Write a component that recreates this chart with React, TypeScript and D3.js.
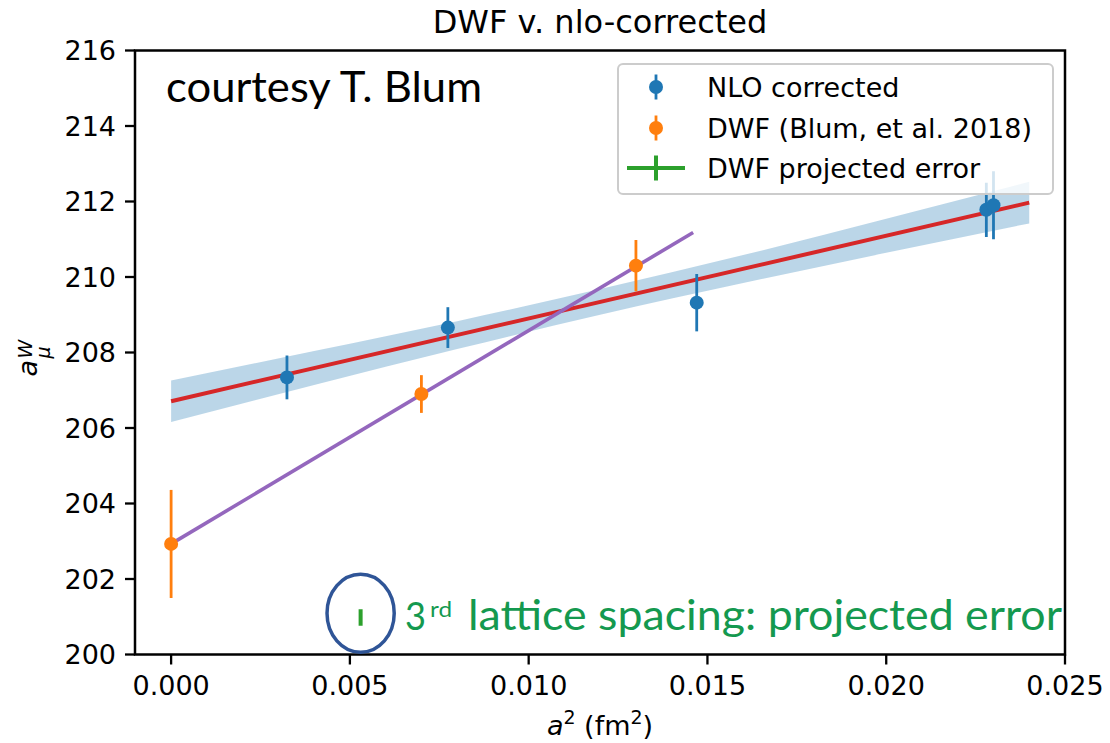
import React from 'react';
import * as d3 from 'd3';

// ---- data ----
const xTicks = [0, 0.005, 0.01, 0.015, 0.02, 0.025];
const yTicks = [200, 202, 204, 206, 208, 210, 212, 214, 216];

const nloX = [0.00324, 0.00774, 0.0147, 0.0228, 0.023];
const nloY = [207.34, 208.66, 209.32, 211.78, 211.9];
const nloErr = [0.58, 0.54, 0.76, 0.72, 0.9];

const dwfX = [0, 0.007, 0.013];
const dwfY = [202.93, 206.9, 210.3];
const dwfErr = [1.43, 0.5, 0.68];

const projX = [0.0053];
const projY = [200.98];
const projErr = [0.22];

const fitX = [0, 0.024];
const fitY = [206.71, 211.97];

const dwfFitX = [0, 0.0146];
const dwfFitY = [202.93, 211.18];

const bandX = [0, 0.004, 0.008, 0.012, 0.016, 0.02, 0.024];
const bandHi = [207.26, 208.04, 208.83, 209.68, 210.58, 211.54, 212.52];
const bandLo = [206.16, 207.14, 208.09, 209.0, 209.84, 210.64, 211.42];

const legendLabels = ['NLO corrected', 'DWF (Blum, et al. 2018)', 'DWF projected error'];

const BLUE = '#1f77b4';
const ORANGE = '#ff7f0e';
const GREEN = '#2ca02c';
const RED = '#d62728';
const PURPLE = '#9467bd';
const NOTE_GREEN = '#14994F';

const W = 1110, H = 743;
const M = { left: 135, right: 1065, top: 50.5, bottom: 654.5 };
const FONT = '"DejaVu Sans", sans-serif';
const NOTE_FONT = 'Lato, sans-serif';

export default function App() {
  const x = d3.scaleLinear().domain([-0.00101, 0.025]).range([M.left, M.right]);
  const y = d3.scaleLinear().domain([200, 216]).range([M.bottom, M.top]);
  const line = d3.line<[number, number]>().x(d => x(d[0])).y(d => y(d[1]));
  const area = d3.area<number>()
    .x((_, i) => x(bandX[i]))
    .y0((_, i) => y(bandLo[i]))
    .y1((_, i) => y(bandHi[i]))
    .curve(d3.curveMonotoneX);
  const fmtX = d3.format('.3f');

  const errBars = (xs: number[], ys: number[], es: number[], color: string, key: string) =>
    xs.map((xv, i) => (
      <g key={key + i}>
        <line x1={x(xv)} x2={x(xv)} y1={y(ys[i] - es[i])} y2={y(ys[i] + es[i])} stroke={color} strokeWidth={2.8} />
        <circle cx={x(xv)} cy={y(ys[i])} r={7} fill={color} />
      </g>
    ));

  const legX = 618, legY = 64, legW = 435, legH = 130;
  const rowY = [87, 128, 168];
  const hx = 656;

  return (
    <svg width={W} height={H} style={{ position: 'absolute', left: 0, top: 0, background: '#fff' }}
      fontFamily={FONT}>
      <defs>
        <clipPath id="plotclip">
          <rect x={M.left} y={M.top} width={M.right - M.left} height={M.bottom - M.top} />
        </clipPath>
      </defs>
      <rect x={0} y={0} width={W} height={H} fill="#fff" />
      {/* title */}
      <text x={(M.left + M.right) / 2} y={33} textAnchor="middle" fontSize={32} fill="#000">DWF v. nlo-corrected</text>

      <g clipPath="url(#plotclip)">
        <path d={area(bandX) || ''} fill={BLUE} fillOpacity={0.3} />
        <path d={line(fitX.map((v, i) => [v, fitY[i]]) as [number, number][]) || ''} stroke={RED} strokeWidth={4} fill="none" />
        <path d={line(dwfFitX.map((v, i) => [v, dwfFitY[i]]) as [number, number][]) || ''} stroke={PURPLE} strokeWidth={3.6} fill="none" />
        {errBars(nloX, nloY, nloErr, BLUE, 'n')}
        {errBars(dwfX, dwfY, dwfErr, ORANGE, 'd')}
        {projX.map((xv, i) => (
          <line key={'p' + i} x1={x(xv)} x2={x(xv)} y1={y(projY[i] - projErr[i])} y2={y(projY[i] + projErr[i])} stroke={GREEN} strokeWidth={4} />
        ))}
      </g>

      {/* axes frame */}
      <rect x={M.left} y={M.top} width={M.right - M.left} height={M.bottom - M.top} fill="none" stroke="#000" strokeWidth={2.5} />
      {xTicks.map(t => (
        <g key={'xt' + t}>
          <line x1={x(t)} x2={x(t)} y1={M.bottom} y2={M.bottom + 10} stroke="#000" strokeWidth={2.3} />
          <text x={x(t)} y={695} textAnchor="middle" fontSize={27}>{fmtX(t)}</text>
        </g>
      ))}
      {yTicks.map(t => (
        <g key={'yt' + t}>
          <line x1={M.left - 10} x2={M.left} y1={y(t)} y2={y(t)} stroke="#000" strokeWidth={2.3} />
          <text x={116} y={y(t)} dy="0.36em" textAnchor="end" fontSize={27}>{t}</text>
        </g>
      ))}
      {/* x label */}
      <text x={(M.left + M.right) / 2} y={735} textAnchor="middle" fontSize={27}>
        <tspan fontStyle="italic">a</tspan>
        <tspan fontSize={19} dy={-11}>2</tspan>
        <tspan dy={11}> (fm</tspan>
        <tspan fontSize={19} dy={-11}>2</tspan>
        <tspan dy={11}>)</tspan>
      </text>
      {/* y label */}
      <g transform={`translate(37, ${(M.top + M.bottom) / 2}) rotate(-90)`}>
        <text x={-24} y={0} fontSize={27} fontStyle="italic">a</text>
        <text x={-6} y={-5} fontSize={19} fontStyle="italic">W</text>
        <text x={-6} y={3} fontSize={19} fontStyle="italic" dy="0.5em">μ</text>
      </g>

      {/* legend */}
      <rect x={legX} y={legY} width={legW} height={legH} rx={5} fill="#fff" fillOpacity={0.8} stroke="#cccccc" strokeWidth={2} />
      <line x1={hx} x2={hx} y1={rowY[0] - 12.5} y2={rowY[0] + 12.5} stroke={BLUE} strokeWidth={2.8} />
      <circle cx={hx} cy={rowY[0]} r={7} fill={BLUE} />
      <line x1={hx} x2={hx} y1={rowY[1] - 12.5} y2={rowY[1] + 12.5} stroke={ORANGE} strokeWidth={2.8} />
      <circle cx={hx} cy={rowY[1]} r={7} fill={ORANGE} />
      <line x1={hx - 29} x2={hx + 29} y1={rowY[2]} y2={rowY[2]} stroke={GREEN} strokeWidth={4} />
      <line x1={hx} x2={hx} y1={rowY[2] - 12.5} y2={rowY[2] + 12.5} stroke={GREEN} strokeWidth={4} />
      {legendLabels.map((l, i) => (
        <text key={l} x={707} y={rowY[i]} dy="0.36em" fontSize={27}>{l}</text>
      ))}

      {/* annotations */}
      <text x={166} y={102} fontFamily={NOTE_FONT} fontSize={42} textLength={316} lengthAdjust="spacingAndGlyphs">courtesy T. Blum</text>
      <ellipse cx={x(projX[0])} cy={613.3} rx={33.6} ry={39} fill="none" stroke="#2F5597" strokeWidth={3.5} />
      <text x={405} y={629.5} fontFamily={NOTE_FONT} fontSize={39} fill={NOTE_GREEN} textLength={21} lengthAdjust="spacingAndGlyphs">3</text>
      <text x={430} y={616.5} fontFamily={NOTE_FONT} fontSize={21} fill={NOTE_GREEN} textLength={22} lengthAdjust="spacingAndGlyphs">rd</text>
      <text x={468} y={629.5} fontFamily={NOTE_FONT} fontSize={42} fill={NOTE_GREEN} textLength={594} lengthAdjust="spacingAndGlyphs">lattice spacing: projected error</text>
    </svg>
  );
}
